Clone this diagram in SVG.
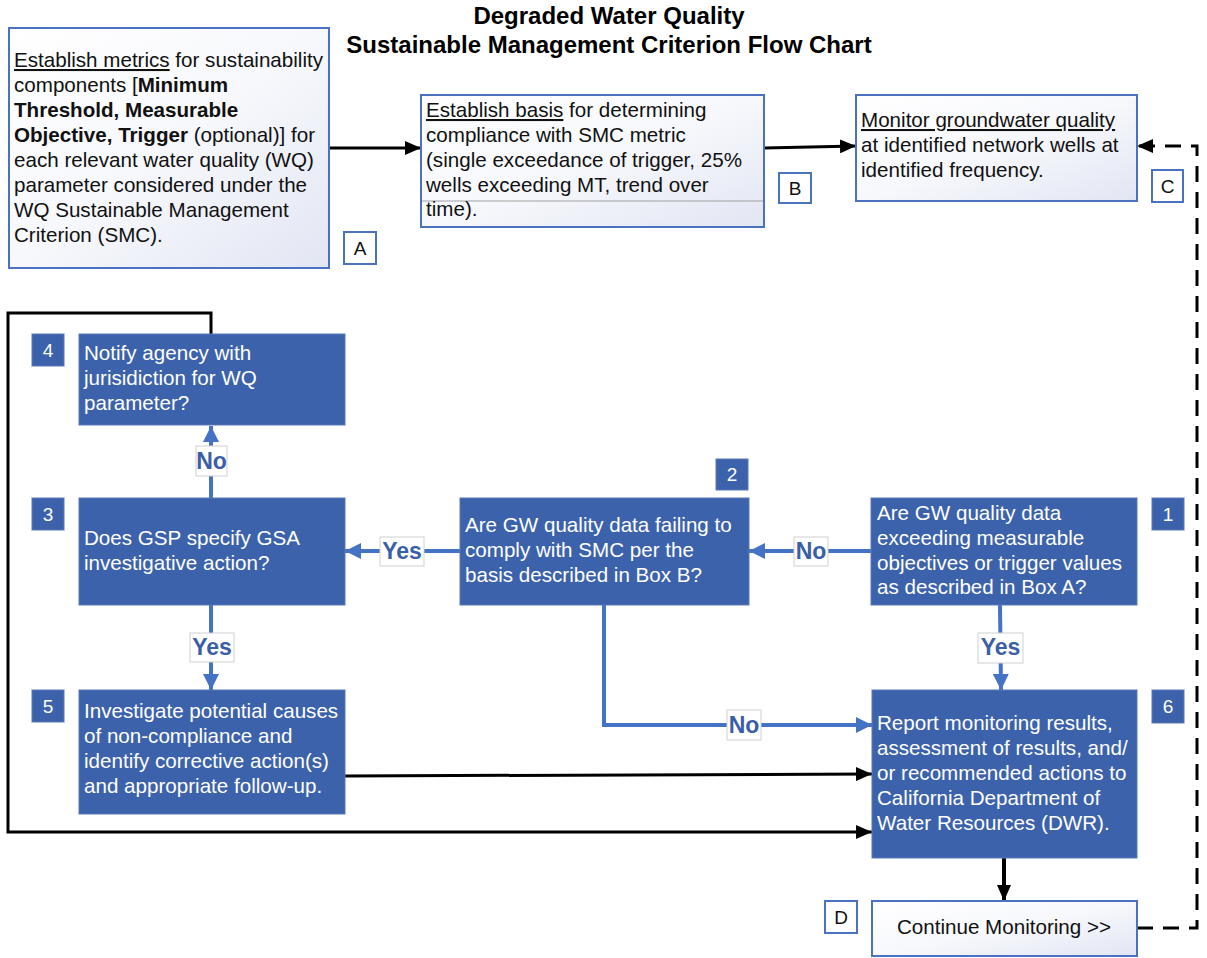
<svg xmlns="http://www.w3.org/2000/svg" width="1207" height="958" viewBox="0 0 1207 958">
<style>
text{font-family:"Liberation Sans",Arial,sans-serif;}
.t{font-size:20.6px;fill:#111;}
.w{font-size:20.6px;fill:#fff;}
.title{font-size:24px;font-weight:bold;fill:#000;}
.light{fill:url(#lg);stroke:#4a72c0;stroke-width:2;}
.dark{fill:#3d62ac;stroke:#5a78b8;stroke-width:1;}
.lab{fill:#fff;stroke:#4a72c0;stroke-width:2;}
.labt{font-size:19px;fill:#111;text-anchor:middle;}
.num{fill:#3d62ac;stroke:#5a78b8;stroke-width:1;}
.numt{font-size:19px;fill:#fff;text-anchor:middle;}
.blk{fill:none;stroke:#000;stroke-width:3;}
.blu{fill:none;stroke:#4472c4;stroke-width:4;}
.dash{fill:none;stroke:#000;stroke-width:3;stroke-dasharray:16,10;}
.yn{fill:#fff;stroke:#d0d0d0;stroke-width:1;}
.ynt{font-size:23px;font-weight:bold;fill:#3a5ea8;text-anchor:middle;}
.u{text-decoration:underline;}
.b{font-weight:bold;}
</style>
<defs>
<linearGradient id="lg" x1="0" y1="0" x2="1" y2="1">
<stop offset="0" stop-color="#ffffff"/>
<stop offset="0.5" stop-color="#f7f8fc"/>
<stop offset="1" stop-color="#e2e6f3"/>
</linearGradient>
<marker id="ab" markerUnits="userSpaceOnUse" markerWidth="16" markerHeight="14" refX="16" refY="7" orient="auto"><path d="M0,0 L16,7 L0,14 Z" fill="#000"/></marker>
<marker id="au" markerUnits="userSpaceOnUse" markerWidth="16" markerHeight="16" refX="16" refY="8" orient="auto"><path d="M0,0 L16,8 L0,16 Z" fill="#4472c4"/></marker>
</defs>
<rect width="1207" height="958" fill="#fff"/>

<g id="title">
<text class="title" x="609" y="24" text-anchor="middle">Degraded Water Quality</text>
<text class="title" x="609" y="53" text-anchor="middle">Sustainable Management Criterion Flow Chart</text>
</g>

<g id="connectors">
<path class="blk" d="M329,148 H421" marker-end="url(#ab)"/>
<path class="blk" d="M764,148 L856,146" marker-end="url(#ab)"/>
<path class="dash" d="M1137,928 H1197 V146 H1137" marker-end="url(#ab)"/>
<path class="blk" d="M211,334 V313 H8 V832 H872" marker-end="url(#ab)"/>
<path class="blk" d="M345,776 L872,774" marker-end="url(#ab)"/>
<path class="blk" d="M1004,858 V901" style="stroke-width:4" marker-end="url(#ab)"/>
<path class="blu" d="M871,551 H749" marker-end="url(#au)"/>
<path class="blu" d="M460,551 H345" marker-end="url(#au)"/>
<path class="blu" d="M211,498 V426" marker-end="url(#au)"/>
<path class="blu" d="M211,605 V690" marker-end="url(#au)"/>
<path class="blu" d="M1000,605 L1001,690" marker-end="url(#au)"/>
<path class="blu" d="M604,605 V725 H872" marker-end="url(#au)"/>
<g id="yn-labels">
<rect class="yn" x="794" y="537" width="34" height="29"/><text class="ynt" x="811" y="559">No</text>
<rect class="yn" x="380" y="537" width="44" height="29"/><text class="ynt" x="402" y="559">Yes</text>
<rect class="yn" x="196" y="446" width="31" height="30"/><text class="ynt" x="211.5" y="469">No</text>
<rect class="yn" x="190" y="633" width="44" height="29"/><text class="ynt" x="212" y="655">Yes</text>
<rect class="yn" x="978" y="633" width="45" height="30"/><text class="ynt" x="1000.5" y="655">Yes</text>
<rect class="yn" x="727" y="710" width="34" height="30"/><text class="ynt" x="744" y="733">No</text>
</g>
</g>

<g id="nodeA">
<rect class="light" x="9" y="28" width="320" height="240"/>
<text class="t" x="14" y="67"><tspan class="u">Establish metrics</tspan> for sustainability</text>
<text class="t" x="14" y="92">components [<tspan class="b">Minimum</tspan></text>
<text class="t b" x="14" y="117">Threshold, Measurable</text>
<text class="t" x="14" y="142"><tspan class="b">Objective, Trigger</tspan> (optional)] for</text>
<text class="t" x="14" y="167">each relevant water quality (WQ)</text>
<text class="t" x="14" y="192">parameter considered under the</text>
<text class="t" x="14" y="217">WQ Sustainable Management</text>
<text class="t" x="14" y="242">Criterion (SMC).</text>
<rect class="lab" x="344" y="232" width="32" height="32"/>
<text class="labt" x="360" y="255">A</text>
</g>

<g id="nodeB">
<rect class="light" x="421" y="95" width="343" height="132"/>
<line x1="422" y1="201" x2="763" y2="201" stroke="#a0a0a0" stroke-width="1"/>
<text class="t" x="426" y="117"><tspan class="u">Establish basis</tspan> for determining</text>
<text class="t" x="426" y="142">compliance with SMC metric</text>
<text class="t" x="426" y="167">(single exceedance of trigger, 25%</text>
<text class="t" x="426" y="192">wells exceeding MT, trend over</text>
<text class="t" x="426" y="216">time).</text>
<rect class="lab" x="779" y="173" width="32" height="30"/>
<text class="labt" x="795" y="195">B</text>
</g>

<g id="nodeC">
<rect class="light" x="856" y="95" width="281" height="106"/>
<text class="t" x="861" y="127"><tspan class="u">Monitor groundwater quality</tspan></text>
<text class="t" x="861" y="152">at identified network wells at</text>
<text class="t" x="861" y="177">identified frequency.</text>
<rect class="lab" x="1152" y="170" width="31" height="32"/>
<text class="labt" x="1167.5" y="193">C</text>
</g>

<g id="node4">
<rect class="dark" x="79" y="334" width="266" height="91"/>
<text class="w" x="84" y="360">Notify agency with</text>
<text class="w" x="84" y="385">jurisidiction for WQ</text>
<text class="w" x="84" y="410">parameter?</text>
<rect class="num" x="32" y="334" width="32" height="32"/>
<text class="numt" x="48" y="357">4</text>
</g>

<g id="node3">
<rect class="dark" x="79" y="498" width="266" height="107"/>
<text class="w" x="84" y="545">Does GSP specify GSA</text>
<text class="w" x="84" y="570">investigative action?</text>
<rect class="num" x="32" y="498" width="32" height="32"/>
<text class="numt" x="48" y="521">3</text>
</g>

<g id="node2">
<rect class="dark" x="460" y="498" width="289" height="107"/>
<text class="w" x="465" y="532">Are GW quality data failing to</text>
<text class="w" x="465" y="557">comply with SMC per the</text>
<text class="w" x="465" y="582">basis described in Box B?</text>
<rect class="num" x="716" y="459" width="32" height="31"/>
<text class="numt" x="732" y="481">2</text>
</g>

<g id="node1">
<rect class="dark" x="871" y="498" width="266" height="107"/>
<text class="w" x="877" y="520">Are GW quality data</text>
<text class="w" x="877" y="545">exceeding measurable</text>
<text class="w" x="877" y="570">objectives or trigger values</text>
<text class="w" x="877" y="594">as described in Box A?</text>
<rect class="num" x="1152" y="498" width="32" height="32"/>
<text class="numt" x="1168" y="521">1</text>
</g>

<g id="node5">
<rect class="dark" x="79" y="690" width="266" height="124"/>
<text class="w" x="84" y="718">Investigate potential causes</text>
<text class="w" x="84" y="743">of non-compliance and</text>
<text class="w" x="84" y="768">identify corrective action(s)</text>
<text class="w" x="84" y="793">and appropriate follow-up.</text>
<rect class="num" x="32" y="690" width="32" height="32"/>
<text class="numt" x="48" y="713">5</text>
</g>

<g id="node6">
<rect class="dark" x="872" y="690" width="265" height="168"/>
<text class="w" x="877" y="730">Report monitoring results,</text>
<text class="w" x="877" y="755">assessment of results, and/</text>
<text class="w" x="877" y="780">or recommended actions to</text>
<text class="w" x="877" y="805">California Department of</text>
<text class="w" x="877" y="830">Water Resources (DWR).</text>
<rect class="num" x="1152" y="690" width="32" height="33"/>
<text class="numt" x="1168" y="713">6</text>
</g>

<g id="nodeD">
<rect class="light" x="872" y="901" width="265" height="55"/>
<text class="t" x="1004" y="934" text-anchor="middle">Continue Monitoring &gt;&gt;</text>
<rect class="lab" x="825" y="901" width="32" height="32"/>
<text class="labt" x="841" y="924">D</text>
</g>
</svg>
